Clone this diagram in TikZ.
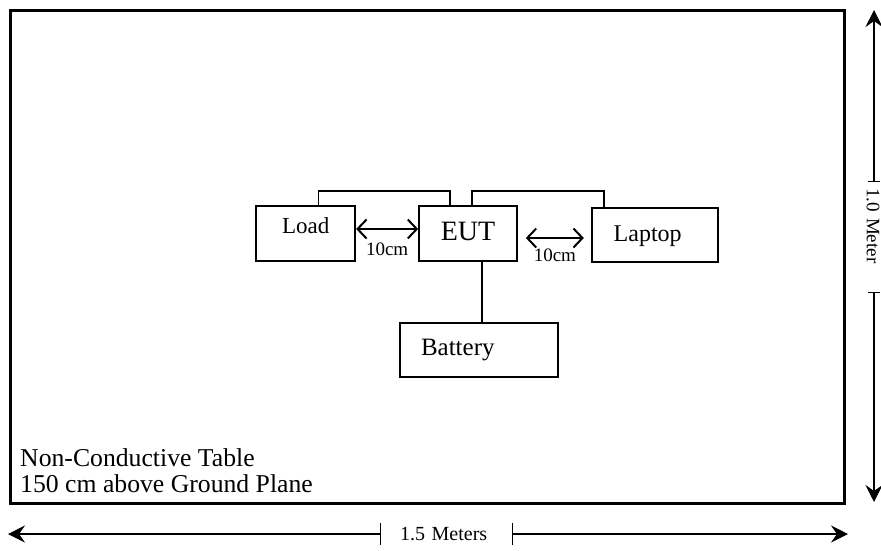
\documentclass[tikz,border=0pt]{standalone}
\usepackage{fontspec}
\setmainfont{Liberation Serif}
\usetikzlibrary{arrows.meta, positioning}

\begin{document}
\begin{tikzpicture}[x=1pt, y=-1pt, >=Stealth]
  \tikzstyle{unit} = [rectangle, draw, line width=1.7pt, inner ysep=0pt]
  \tikzstyle{wire} = [line width=1.6pt]
  \tikzstyle{gap} = [{Straight Barb[length=9pt,width=19pt]}-{Straight Barb[length=9pt,width=19pt]}, line width=2pt]
  \tikzstyle{dim} = [-{Stealth[length=17pt,width=17pt,inset=6pt]}, line width=1.2pt]
  \useasboundingbox (0,0) rectangle (881,550);

  % Table
  \node (table) [draw, line width=3pt, outer sep=0pt, inner sep=0pt, minimum width=834pt, minimum height=493pt] at (427,256.5) {};
  \node (tabletext) [anchor=south west, align=left, inner sep=0pt, font=\fontsize{25.7}{26}\selectfont] at ([shift={(10pt,10pt)}]table.south west) {Non-Conductive Table\\150 cm above Ground Plane};

  % Units
  \node (eut) [unit, minimum width=98pt, text height=34pt, text depth=21pt, font=\fontsize{28}{30}\selectfont] at (468,233.5) {EUT};
  \node (load) [unit, left=62pt of eut, minimum width=99pt, text height=27.6pt, text depth=27.4pt, font=\fontsize{23}{25}\selectfont] {Load};
  \node (laptop) [unit, right=73pt of eut, yshift=-1.5pt, inner xsep=22pt, text width=82pt, align=left, text height=33pt, text depth=21pt, font=\fontsize{24}{26}\selectfont] {Laptop};
  \node (battery) [unit, below=60pt of eut, xshift=11pt, inner xsep=21pt, text width=116pt, align=left, text height=33pt, text depth=21pt, font=\fontsize{25}{27}\selectfont] {Battery};

  % Wiring
  \draw[wire] ([xshift=63pt]load.north west) |- ([xshift=32pt, yshift=14pt]eut.north west) -- ([xshift=32pt]eut.north west);
  \draw[wire] ([xshift=54pt]eut.north west) |- ([xshift=13pt, yshift=16pt]laptop.north west) -- ([xshift=13pt]laptop.north west);
  \draw[wire] ([xshift=14pt]eut.south) -- ([xshift=3pt]battery.north);

  % Spacing
  \draw[gap] ([yshift=4.5pt]load.east) -- ([yshift=4.5pt]eut.west) node[midway, below=10pt, font=\fontsize{19}{21}\selectfont] (gap1) {10cm};
  \draw[gap] ([shift={(8pt,-4.5pt)}]eut.east) -- ([shift={(-7pt,-3pt)}]laptop.west) node[midway, below=6.5pt, font=\fontsize{19}{21}\selectfont] (gap2) {10cm};

  % Dimensions
  \coordinate (hl) at (8,534);
  \coordinate (hr) at (848,534);
  \node (hlabel) [inner ysep=0pt, inner xsep=19pt, text width=93pt, align=left, font=\fontsize{20}{22}\selectfont] at (446.5,534) {1.5 Meters};
  \draw[dim] (hlabel.west) -- (hl);
  \draw[dim] (hlabel.east) -- (hr);
  \draw[line width=1.2pt] ([yshift=11pt]hlabel.west) -- ([yshift=-11pt]hlabel.west);
  \draw[line width=1.2pt] ([yshift=11pt]hlabel.east) -- ([yshift=-11pt]hlabel.east);

  \coordinate (vt) at (874,10);
  \coordinate (vb) at (874,502);
  \node (vlabel) [rotate=-90, inner ysep=0pt, inner xsep=6pt, text width=98pt, align=left, font=\fontsize{19}{21}\selectfont] at (873,237) {1.0 Meter};
  \coordinate (vtop) at (vlabel.west -| vt);
  \coordinate (vbot) at (vlabel.east -| vb);
  \draw[dim] (vtop) -- (vt);
  \draw[dim] (vbot) -- (vb);
  \draw[line width=1.2pt] ([xshift=-6pt]vtop) -- ([xshift=6pt]vtop);
  \draw[line width=1.2pt] ([xshift=-6pt]vbot) -- ([xshift=6pt]vbot);
\end{tikzpicture}
\end{document}
